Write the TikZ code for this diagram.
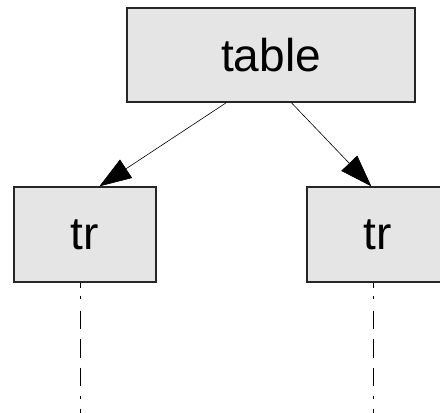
\documentclass[tikz,border=0pt]{standalone}
\usepackage{fontspec}
\setmainfont{Liberation Sans}
\usetikzlibrary{arrows.meta}
\begin{document}
\begin{tikzpicture}[x=1pt,y=-1pt,
  box/.style={draw=black!85,line width=1.3pt,fill=black!10,inner sep=0pt,
    font=\fontsize{46}{46}\selectfont},
  link/.style={line width=0.6pt,-{Triangle[length=32pt,width=22pt]}},
  trail/.style={line width=0.8pt,
    dash pattern=on 5pt off 8pt on 3pt off 12pt on 18pt off 10pt on 19pt off 10pt
      on 18pt off 10pt on 3pt off 10pt on 6pt off 10pt}]
  \useasboundingbox (0,0) rectangle (440,413);
  \clip (0,0) rectangle (440,413);
  % root element
  \node[box,minimum width=288pt,minimum height=94pt] (table) at (271,55) {table};
  % child rows
  \node[box,minimum width=142pt,minimum height=95pt] (trL) at (85,234.5) {tr};
  \node[box,minimum width=142pt,minimum height=95pt] (trR) at (378,234.5) {tr};
  % edges from the table to its rows
  \draw[link] ([xshift=100pt]table.south west) -- ([xshift=86pt]trL.north west);
  \draw[link] ([xshift=165pt]table.south west) -- ([xshift=65pt]trR.north west);
  % further rows continue below
  \coordinate (endL) at (80.5,413);
  \coordinate (endR) at (373,413);
  \draw[trail] ([xshift=-4.5pt]trL.south) -- (endL);
  \draw[trail] ([xshift=-5pt]trR.south) -- (endR);
\end{tikzpicture}
\end{document}
